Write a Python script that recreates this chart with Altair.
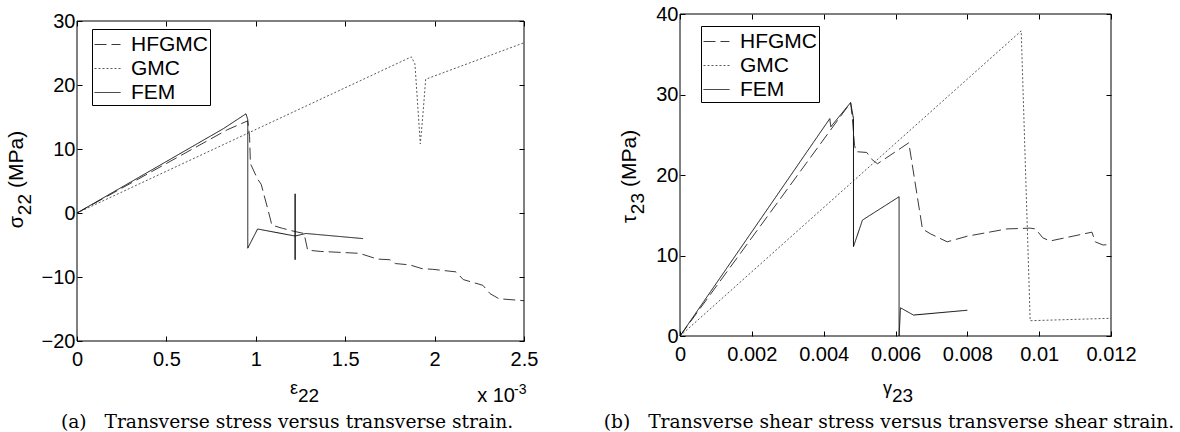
import altair as alt
import pandas as pd

FONT = "Liberation Sans"
SERIF = "DejaVu Serif"
SERIES = ["HFGMC", "GMC", "FEM"]
COLORS = ["#3a3a3a", "#5a5a5a", "#111111"]
DASHES = [[12, 5], [2, 2], [1, 0]]

# ---------------- panel (a): sigma22 vs eps22 (x in 1e-3) ----------------
a_hfgmc_x = [0, 0.84, 0.955, 0.965, 0.97, 1.01, 1.03, 1.07, 1.09, 1.15, 1.22, 1.27, 1.29, 1.36,
             1.58, 1.68, 1.75, 1.78, 1.86, 1.93, 1.99, 2.12, 2.16, 2.27, 2.31, 2.36, 2.5]
a_hfgmc_y = [0, 13.0, 14.4, 12.0, 7.7, 5.3, 4.5, 0.3, -1.9, -2.4, -2.9, -3.2, -5.8, -6.0,
             -6.3, -7.2, -7.3, -7.9, -8.1, -8.7, -8.8, -9.2, -10.4, -11.3, -12.6, -13.4, -13.7]
a_gmc_x = [0, 1.87, 1.89, 1.91, 1.92, 1.935, 1.95, 2.5]
a_gmc_y = [0, 24.4, 23.3, 15.0, 10.8, 15.5, 20.9, 26.6]
a_fem_x = [0, 0.82, 0.945, 0.955, 0.955, 1.01, 1.22, 1.22, 1.22, 1.22, 1.28, 1.6]
a_fem_y = [0, 13.2, 15.5, 14.6, -5.5, -2.5, -3.6, 3.0, -7.3, -3.6, -3.2, -4.0]
a_xdom = [0, 2.5]
a_ydom = [-20, 30]
a_xticks = [0, 0.5, 1, 1.5, 2, 2.5]
a_yticks = [-20, -10, 0, 10, 20, 30]

# ---------------- panel (b): tau23 vs gamma23 ----------------
b_hfgmc_x = [0, 0.00475, 0.0048, 0.00486, 0.0049, 0.0052, 0.00535, 0.0055, 0.00637, 0.00675,
             0.00697, 0.00744, 0.008, 0.0091, 0.00975, 0.0099, 0.0101, 0.0103, 0.01147,
             0.01156, 0.01178, 0.012]
b_hfgmc_y = [0, 29.0, 27.0, 23.7, 22.9, 22.8, 21.9, 21.4, 24.0, 13.3,
             12.7, 11.7, 12.4, 13.3, 13.4, 13.3, 12.2, 11.8, 12.9,
             11.7, 11.3, 11.4]
b_gmc_x = [0, 0.0095, 0.00975, 0.012]
b_gmc_y = [0, 37.9, 1.9, 2.2]
b_fem_x = [0, 0.00417, 0.0042, 0.00475, 0.00483, 0.00483, 0.00508, 0.0061, 0.0061, 0.00614,
           0.0065, 0.008]
b_fem_y = [0, 27.0, 26.0, 29.0, 27.0, 11.1, 14.4, 17.3, 0, 3.5, 2.6, 3.2]
b_xdom = [0, 0.012]
b_ydom = [0, 40]
b_xticks = [0, 0.002, 0.004, 0.006, 0.008, 0.01, 0.012]
b_yticks = [0, 10, 20, 30, 40]

CAPTION_A = "(a)\u00a0\u00a0\u00a0Transverse stress versus transverse strain."
CAPTION_B = "(b)\u00a0\u00a0\u00a0Transverse shear stress versus transverse shear strain."

W, H = 1180, 432
TICK = 5


def frame(xs, ys):
    rows = []
    for name, x, y in zip(SERIES, xs, ys):
        for i, (xv, yv) in enumerate(zip(x, y)):
            rows.append({"series": name, "x": xv, "y": yv, "i": i})
    return pd.DataFrame(rows)


def axis(orient, values, offset, labels=True, pad=2, fmt=None):
    kw = dict(orient=orient, values=values, offset=offset, tickSize=TICK, tickColor="black",
              tickWidth=1, domain=False, grid=False, labels=labels, labelFont=FONT,
              labelFontSize=20, labelColor="black", labelPadding=pad, labelFlush=False,
              labelOverlap=False, title=None)
    if fmt:
        kw["format"] = fmt
    return alt.Axis(**kw)


def text_layer(txt, x, y, size, font=FONT, align="left", angle=0):
    return alt.Chart(pd.DataFrame({"t": [txt]})).mark_text(
        font=font, fontSize=size, align=align, baseline="alphabetic", color="black",
        angle=angle
    ).encode(text="t:N", x=alt.value(x), y=alt.value(y))


def panel(df, xdom, ydom, xticks, yticks, xfmt, px0, px1, py0, py1, lx, ly):
    # px0..px1 : left/right edge of plot box; py0..py1 : top/bottom edge
    xs = alt.Scale(domain=xdom, range=[px0, px1], nice=False, zero=False)
    ys = alt.Scale(domain=ydom, range=[py1, py0], nice=False, zero=False)
    leg = alt.Legend(orient="none", legendX=lx, legendY=ly, title=None, symbolType="stroke",
                     symbolSize=676, symbolStrokeWidth=1, labelFont=FONT, labelFontSize=21,
                     labelColor="black", labelOffset=10, labelLimit=300, padding=2,
                     rowPadding=0, strokeColor="black", fillColor="white")
    lines = alt.Chart(df).mark_line(strokeWidth=1).encode(
        x=alt.X("x:Q", scale=xs,
                axis=axis("bottom", xticks, (py1 - TICK) - H, pad=8, fmt=xfmt)),
        y=alt.Y("y:Q", scale=ys,
                axis=axis("left", yticks, -(px0 + TICK), pad=2, fmt="d")),
        color=alt.Color("series:N", scale=alt.Scale(domain=SERIES, range=COLORS), legend=leg),
        strokeDash=alt.StrokeDash("series:N", scale=alt.Scale(domain=SERIES, range=DASHES),
                                  legend=leg),
        order=alt.Order("i:Q"),
    )
    boxdf = pd.DataFrame({"x0": [xdom[0]], "x1": [xdom[1]], "y0": [ydom[0]], "y1": [ydom[1]]})
    box = alt.Chart(boxdf).mark_rect(fillOpacity=0, stroke="black", strokeWidth=1).encode(
        x=alt.X("x0:Q", scale=xs, axis=axis("top", xticks, -(py0 + TICK), labels=False)),
        x2="x1:Q",
        y=alt.Y("y0:Q", scale=ys, axis=axis("right", yticks, (px1 - TICK) - W, labels=False)),
        y2="y1:Q",
    )
    return [lines, box]


layers = []
layers += panel(frame([a_hfgmc_x, a_gmc_x, a_fem_x], [a_hfgmc_y, a_gmc_y, a_fem_y]),
                a_xdom, a_ydom, a_xticks, a_yticks, ".1~f", 77, 524, 21, 341, 92, 29)
layers += panel(frame([b_hfgmc_x, b_gmc_x, b_fem_x], [b_hfgmc_y, b_gmc_y, b_fem_y]),
                b_xdom, b_ydom, b_xticks, b_yticks, "~g", 680, 1111, 14, 336, 701, 26)

# axis titles, multiplier and captions (panel a)
layers += [
    text_layer("(MPa)", 23, 188, 21, angle=270),
    text_layer("22", 31, 194, 19, align="right", angle=270),
    text_layer("σ", 23, 216, 20, align="right", angle=270),
    text_layer("ε", 298, 394, 18, align="right"),
    text_layer("22", 298, 402, 19),
    text_layer("x 10", 515, 402, 20, align="right"),
    text_layer("-3", 514, 394, 14),
    text_layer(CAPTION_A, 287, 428, 18.7, font=SERIF, align="center"),
]
# panel b
layers += [
    text_layer("(MPa)", 636, 187, 21, angle=270),
    text_layer("23", 644, 193, 19, align="right", angle=270),
    text_layer("τ", 636, 215, 20, align="right", angle=270),
    text_layer("γ", 892, 394, 18, align="right"),
    text_layer("23", 892, 402, 19),
    text_layer(CAPTION_B, 889, 428, 18.7, font=SERIF, align="center"),
]

chart = alt.layer(*layers).resolve_scale(
    x="independent", y="independent", color="independent", strokeDash="independent"
).resolve_axis(x="independent", y="independent").resolve_legend(
    color="independent", strokeDash="independent"
).properties(
    width=W, height=H, autosize=alt.AutoSizeParams(type="none"), padding=0
).configure_view(stroke="transparent")

chart.save("out.html", embed_options={"renderer": "svg", "actions": False})
